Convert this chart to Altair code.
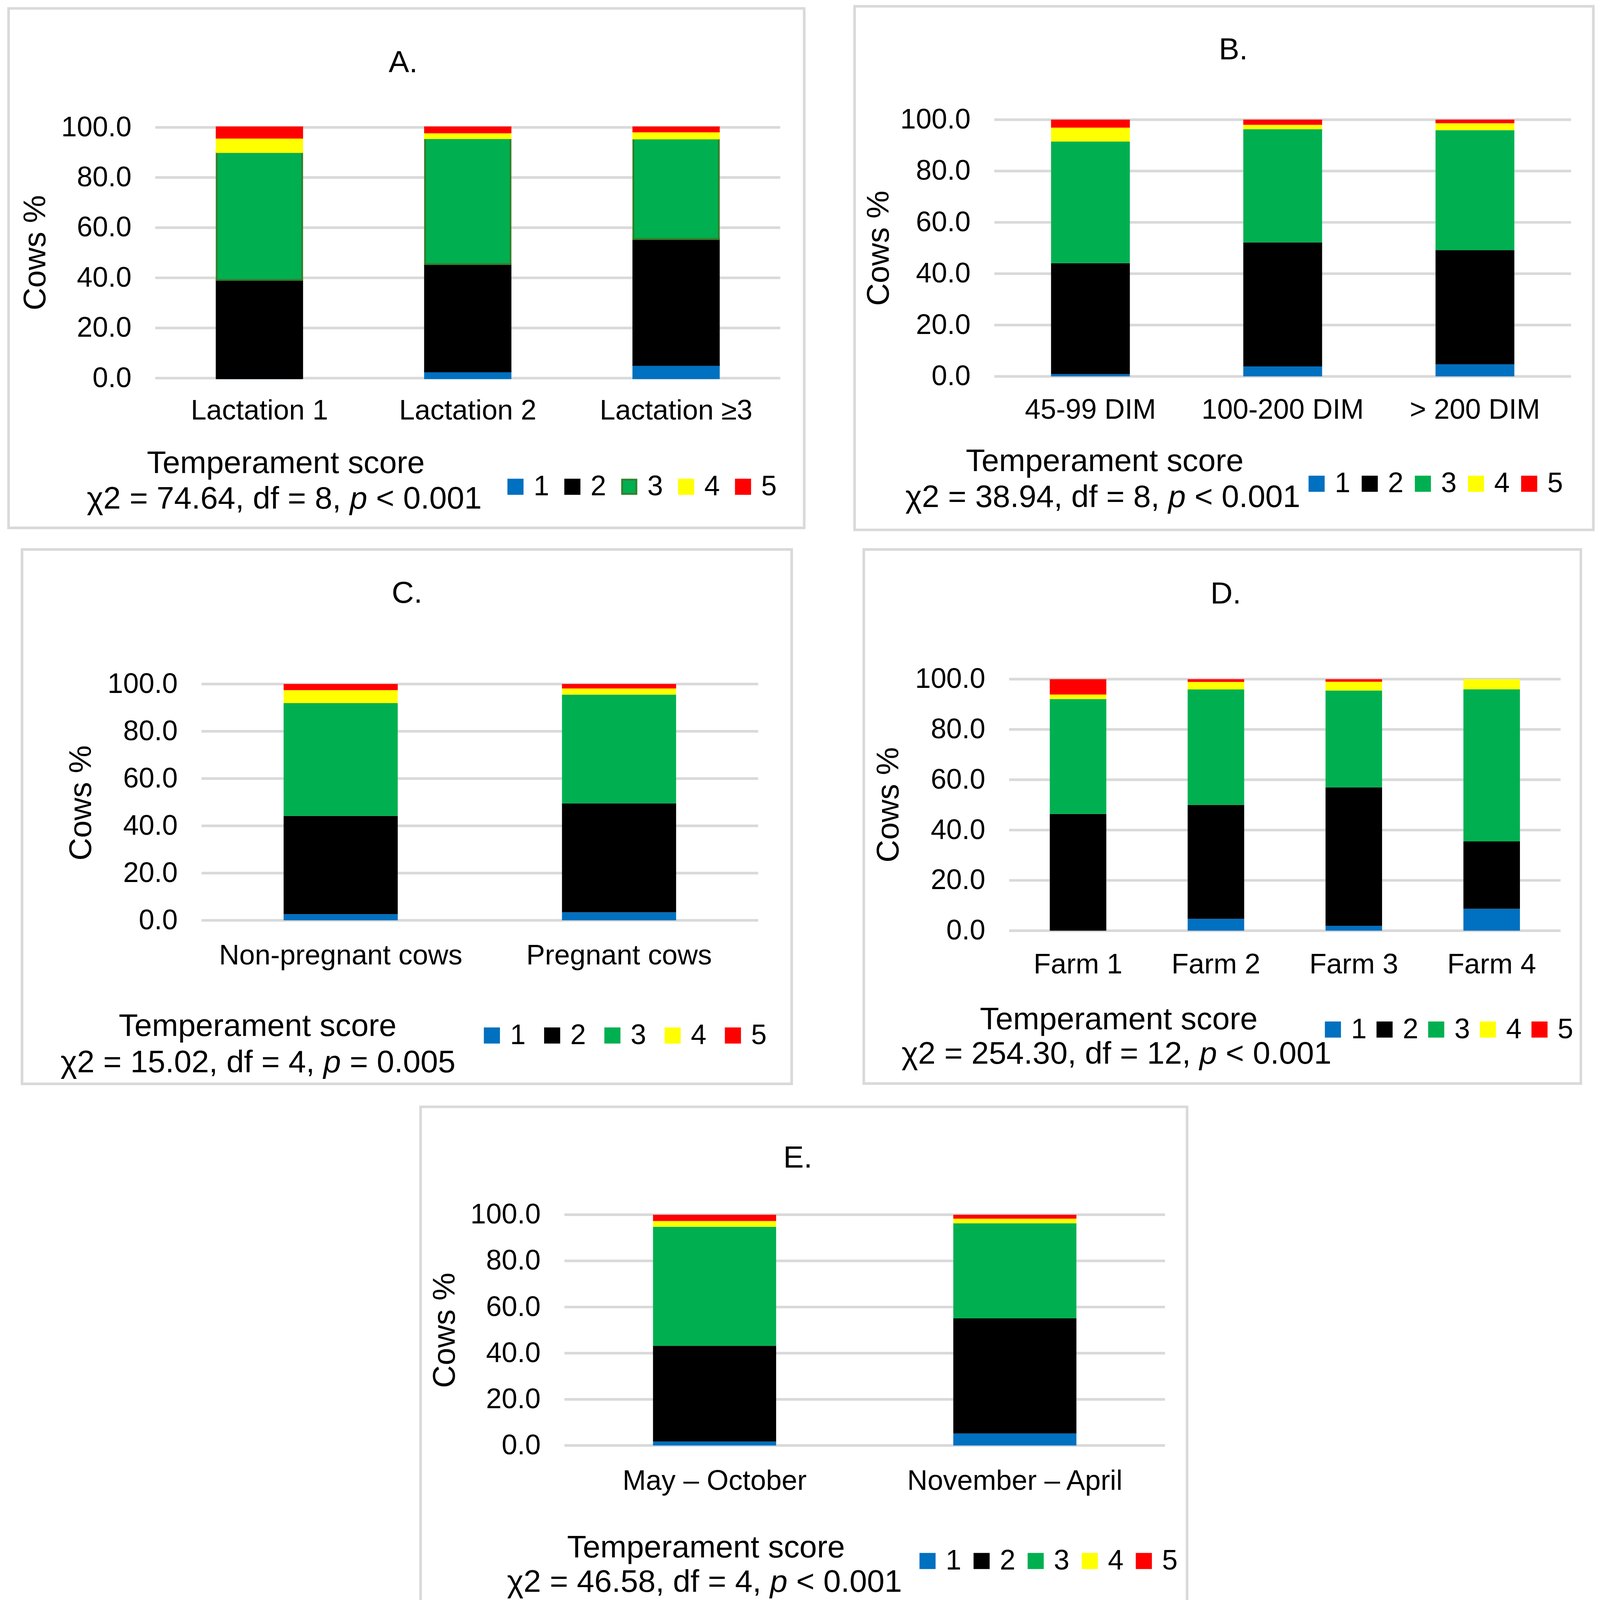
import altair as alt
import pandas as pd

# ---------------- data ----------------
SCORES = [1, 2, 3, 4, 5]
SCORE_COLORS = ["#0070C0", "#000000", "#00B050", "#FFFF00", "#FF0000"]
A_OUTLINE = ["#0070C0", "#000000", "#31802C", "#FFFF00", "#FF0000"]

A_CATS = ["Lactation 1", "Lactation 2", "Lactation ≥3"]
A_S1 = [0.0, 2.7, 5.3]
A_S2 = [39.2, 42.8, 50.2]
A_S3 = [51.0, 50.2, 40.1]
A_S4 = [5.7, 2.3, 2.8]
A_S5 = [4.1, 2.0, 1.6]

B_CATS = ["45-99 DIM", "100-200 DIM", "> 200 DIM"]
B_S1 = [0.9, 3.9, 4.7]
B_S2 = [43.2, 48.3, 44.5]
B_S3 = [47.4, 44.1, 46.7]
B_S4 = [5.4, 1.7, 2.7]
B_S5 = [3.1, 2.0, 1.4]

C_CATS = ["Non-pregnant cows", "Pregnant cows"]
C_S1 = [2.6, 3.4]
C_S2 = [41.6, 46.1]
C_S3 = [47.7, 46.0]
C_S4 = [5.5, 2.6]
C_S5 = [2.6, 1.9]

D_CATS = ["Farm 1", "Farm 2", "Farm 3", "Farm 4"]
D_S1 = [0.0, 4.7, 1.9, 8.7]
D_S2 = [46.4, 45.3, 55.1, 26.8]
D_S3 = [45.7, 45.9, 38.5, 60.5]
D_S4 = [1.8, 3.0, 3.5, 4.0]
D_S5 = [6.1, 1.1, 1.0, 0.0]

E_CATS = ["May – October", "November – April"]
E_S1 = [1.7, 5.2]
E_S2 = [41.5, 49.9]
E_S3 = [51.6, 41.2]
E_S4 = [2.5, 2.0]
E_S5 = [2.7, 1.7]

TITLES = ["A.", "B.", "C.", "D.", "E."]
CHI2 = ["74.64", "38.94", "15.02", "254.30", "46.58"]
DF = ["8", "8", "4", "12", "4"]
P_OP = ["<", "<", "=", "<", "<"]
P_VAL = ["0.001", "0.001", "0.005", "0.001", "0.001"]
Y_TICKS = [0, 20, 40, 60, 80, 100]
X_TITLE = "Temperament score"
Y_TITLE = "Cows %"

# ---------------- layout (page pixels) ----------------
# view = origin of the subchart's view; plot = (left, top, width, height); leg = (centre y, left x, column padding)
LAYOUT = {
    "A": dict(view=(414, 324.9), plot=(414, 345.5, 1670, 670), frame=(22, 27.6, 2148, 1415.7),
              title=(1076.5, 197.8), ytitle=(90.5, 680.4), ts=(762.8, 1269), chi=(759.8, 1364.6),
              leg=(1305, 1339, 24), xpad=51),
    "B": dict(view=(2655.4, 324.9), plot=(2655.4, 324.9, 1541, 686), frame=(2282, 22, 4256, 1421),
              title=(3294, 164), ytitle=(2342.6, 668.4), ts=(2950.3, 1264.2), chi=(2946.3, 1359.6),
              leg=(1297, 3479, 14), xpad=54),
    "C": dict(view=(414, 1819.5), plot=(537.6, 1832.4, 1487.5, 631.5), frame=(58, 1473, 2114.5, 2900.7),
              title=(1086.7, 1615), ytitle=(211.9, 2150.2), ts=(687.5, 2772.8), chi=(689.5, 2870),
              leg=(2770.8, 1276, 33), xpad=58),
    "D": dict(view=(2695.3, 1819.5), plot=(2695.3, 1819.5, 1473.6, 672), frame=(2307, 1473, 4223, 2900),
              title=(3274.2, 1617), ytitle=(2369.6, 2155.2), ts=(2988.2, 2755), chi=(2983.3, 2847.3),
              leg=(2755, 3523, 10), xpad=55),
    "E": dict(view=(414, 3250), plot=(1507.3, 3250, 1604.7, 616.6), frame=(1123, 2961.7, 3171, 4297),
              title=(2130.9, 3123.8), ytitle=(1183.6, 3558.8), ts=(1885.6, 4165.5), chi=(1882.6, 4257.8),
              leg=(4174.4, 2440, 16.5), xpad=59),
}

FONT = "Liberation Sans, Arial, Helvetica, sans-serif"
LABEL_SIZE = 75
AXTITLE_SIZE = 84
TITLE_SIZE = 82
GRID = "#D9D9D9"
LINE_W = 7

EM = {" ": 0.278, ".": 0.278, ",": 0.278, "=": 0.584, "<": 0.584, "d": 0.556,
      "f": 0.278, "p": 0.556, "χ": 0.5}


def tw(s, size):
    return sum(EM.get(c, 0.556) for c in s) * size


def text_layer(s, x, y, size, align="center", baseline="alphabetic", italic=False, angle=None):
    kw = dict(font=FONT, fontSize=size, color="black", align=align, baseline=baseline)
    if italic:
        kw["fontStyle"] = "italic"
    if angle is not None:
        kw["angle"] = angle
    return alt.Chart(alt.Data(values=[{"t": s}])).mark_text(**kw).encode(
        text=alt.Text("t:N"), x=alt.value(x), y=alt.value(y))


def panel(key, idx, cats, series, outline=False):
    L = LAYOUT[key]
    vx, vy = L["view"]
    px, py, W, H = L["plot"]
    ox, oy = px - vx, py - vy
    VW, VH = ox + W, oy + H

    rows = []
    for i, c in enumerate(cats):
        for k, sc in enumerate(SCORES):
            rows.append({"cat": c, "score": sc, "pct": series[k][i]})
    df = pd.DataFrame(rows)

    ly, lx, cp = L["leg"]
    side = 38 if outline else 43
    legend = alt.Legend(orient="none", legendX=lx - vx, legendY=ly - vy - 37,
                        direction="horizontal", title=None, symbolType="square",
                        symbolSize=side * side, symbolStrokeWidth=5 if outline else 0,
                        labelFont=FONT, labelFontSize=LABEL_SIZE, labelColor="black",
                        labelOffset=11, columnPadding=cp, padding=0)

    yscale = alt.Scale(domain=[0, 100], nice=False, range=[VH, oy])
    yaxis = alt.Axis(title=None, values=Y_TICKS, format=".1f", labelFont=FONT,
                     labelFontSize=LABEL_SIZE, labelColor="black", labelPadding=64,
                     ticks=False, tickSize=0, domain=False, grid=False, labelFlush=False,
                     labelLimit=1000, offset=-ox)

    enc = dict(
        x=alt.X("cat:N", sort=cats,
                scale=alt.Scale(range=[ox, ox + W], paddingInner=0.59, paddingOuter=0.295),
                axis=alt.Axis(title=None, labelAngle=0, labelFont=FONT, labelFontSize=LABEL_SIZE,
                              labelColor="black", labelPadding=L["xpad"], ticks=False, tickSize=0,
                              domain=False, grid=False, labelLimit=3000)),
        y=alt.Y("pct:Q", stack="zero", scale=yscale, axis=yaxis),
        color=alt.Color("score:N", scale=alt.Scale(domain=SCORES, range=SCORE_COLORS), legend=legend),
        order=alt.Order("score:Q", sort="ascending"),
    )
    if outline:
        enc["stroke"] = alt.Stroke("score:N", scale=alt.Scale(domain=SCORES, range=A_OUTLINE), legend=legend)
        bars = alt.Chart(df).mark_bar(strokeWidth=5).encode(**enc)
    else:
        bars = alt.Chart(df).mark_bar().encode(**enc)

    grid = alt.Chart(pd.DataFrame({"v": Y_TICKS})).mark_rule(color=GRID, strokeWidth=LINE_W).encode(
        y=alt.Y("v:Q", scale=yscale, axis=yaxis), x=alt.value(ox), x2=alt.value(ox + W))

    fx1, fy1, fx2, fy2 = L["frame"]
    frame = alt.Chart(alt.Data(values=[{"a": 1}])).mark_rect(
        fillOpacity=0, stroke=GRID, strokeWidth=LINE_W).encode(
        x=alt.value(fx1 - vx), x2=alt.value(fx2 - vx), y=alt.value(fy1 - vy), y2=alt.value(fy2 - vy))

    layers = [frame, grid, bars]
    tx, ty = L["title"]
    layers.append(text_layer(TITLES[idx], tx - vx, ty - vy, TITLE_SIZE))
    yx, yy = L["ytitle"]
    layers.append(text_layer(Y_TITLE, yx - vx + 5, yy - vy, AXTITLE_SIZE, baseline="middle", angle=270))
    sx, sy = L["ts"]
    layers.append(text_layer(X_TITLE, sx - vx, sy - vy, AXTITLE_SIZE))

    # chi-square line with italic p
    cx, cy = L["chi"]
    F = AXTITLE_SIZE
    piece1 = f"χ2 = {CHI2[idx]}, df = {DF[idx]},"
    rest = f"{P_OP[idx]} {P_VAL[idx]}"
    sp = tw(" ", F)
    total = tw(piece1, F) + sp + tw("p", F) + sp + tw(rest, F)
    start = cx - total / 2
    p_x = start + tw(piece1, F) + sp
    layers.append(text_layer(piece1, start + tw(piece1, F) - vx, cy - vy, F, align="right"))
    layers.append(text_layer("p", p_x - vx, cy - vy, F, align="left", italic=True))
    layers.append(text_layer(rest, p_x + tw("p", F) + sp - vx, cy - vy, F, align="left"))

    return alt.layer(*layers).properties(width=VW, height=VH)


pA = panel("A", 0, A_CATS, [A_S1, A_S2, A_S3, A_S4, A_S5], outline=True)
pB = panel("B", 1, B_CATS, [B_S1, B_S2, B_S3, B_S4, B_S5])
pC = panel("C", 2, C_CATS, [C_S1, C_S2, C_S3, C_S4, C_S5])
pD = panel("D", 3, D_CATS, [D_S1, D_S2, D_S3, D_S4, D_S5])
pE = panel("E", 4, E_CATS, [E_S1, E_S2, E_S3, E_S4, E_S5])


def indep(c):
    return c.resolve_scale(color="independent", stroke="independent").resolve_legend(
        color="independent", stroke="independent")


row1 = indep(alt.hconcat(pA, pB, spacing=127))
row2 = indep(alt.hconcat(pC, pD, spacing=185.5))
top = indep(alt.vconcat(row1, row2, spacing=45))
chart = indep(alt.vconcat(top, pE, spacing=54))

chart = chart.properties(
    padding={"left": 10.5, "top": -87.5, "right": 5, "bottom": 5},
    background="white",
).configure_view(stroke=None)

chart.save("out.html", embed_options={"renderer": "svg", "actions": False})
